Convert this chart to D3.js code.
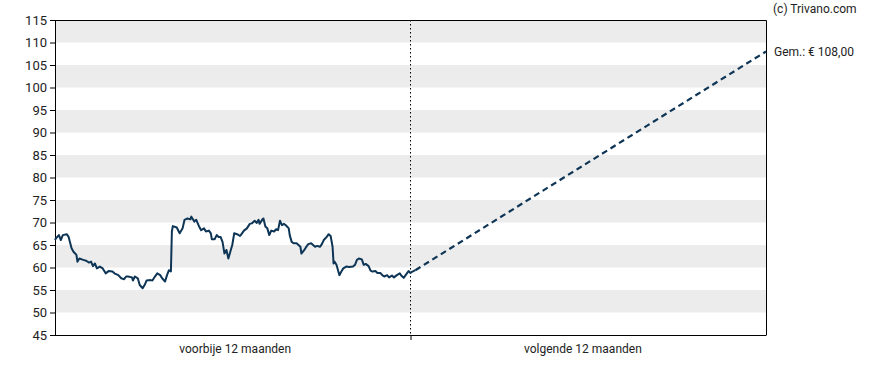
<!DOCTYPE html>
<html>
<head>
<meta charset="utf-8">
<script src="https://cdn.jsdelivr.net/npm/d3@7"></script>
<style>
  body { margin: 0; background: #fff; }
  svg text { font-family: Roboto, "Noto Sans", sans-serif; fill: #222; }
</style>
</head>
<body>
<div id="chart"></div>
<script>
// days relative to today, and closing price on that day
var dagen = [
  -365, -364, -361, -359, -357, -353, -351, -348, -346, -343,
  -342, -340, -336, -333, -330, -328, -326, -324, -322, -319,
  -316, -313, -310, -306, -304, -300, -297, -294, -292, -290,
  -286, -285, -283, -280, -278, -275, -273, -271, -267, -265,
  -262, -260, -257, -255, -252, -250, -248, -246, -245, -244,
  -240, -237, -234, -232, -229, -226, -225, -222, -220, -217,
  -215, -212, -210, -207, -205, -204, -201, -199, -197, -195,
  -193, -191, -189, -187, -185, -183, -181, -178, -175, -173,
  -171, -168, -165, -163, -160, -158, -156, -155, -152, -151,
  -149, -147, -145, -143, -140, -138, -136, -134, -132, -130,
  -128, -125, -124, -122, -120, -117, -115, -113, -112, -109,
  -107, -105, -102, -100, -98, -96, -93, -91, -89, -86,
  -84, -82, -80, -79, -78, -76, -73, -71, -69, -66,
  -63, -59, -57, -55, -53, -50, -48, -46, -43, -41,
  -39, -36, -34, -31, -29, -27, -24, -22, -19, -17,
  -14, -11, -9, -7, -5, -2, 0, 2, 5
];
var koersen = [
  66.1, 66.5, 67.2, 66.1, 67.2, 67.4, 66.8, 64.3, 63.5, 62.8,
  61.3, 62.0, 61.7, 61.5, 61.1, 61.3, 60.3, 60.9, 59.8, 60.2,
  59.8, 58.7, 59.2, 59.1, 58.7, 58.3, 57.6, 57.4, 58.0, 58.0,
  57.8, 57.1, 58.0, 57.6, 56.1, 55.4, 56.1, 57.1, 57.2, 57.1,
  58.1, 58.7, 58.3, 57.6, 56.9, 58.3, 59.4, 59.1, 68.0, 69.2,
  68.9, 67.6, 68.7, 70.6, 70.9, 70.7, 71.3, 70.2, 70.6, 69.1,
  68.3, 68.7, 68.0, 68.2, 67.6, 66.3, 66.3, 67.2, 66.8, 66.8,
  65.7, 63.1, 63.9, 62.0, 63.5, 65.0, 67.6, 67.4, 67.0, 67.6,
  68.2, 68.7, 69.7, 69.8, 70.4, 69.9, 70.6, 69.7, 70.7, 70.9,
  69.1, 68.7, 67.2, 68.2, 68.0, 68.5, 68.3, 70.4, 69.4, 69.7,
  69.4, 68.7, 67.2, 65.7, 65.4, 65.4, 65.0, 64.6, 63.1, 63.9,
  64.6, 65.2, 65.4, 65.0, 64.6, 64.8, 64.6, 65.2, 66.1, 66.8,
  67.4, 67.0, 64.6, 60.9, 61.3, 60.6, 58.3, 59.1, 59.8, 60.2,
  60.1, 60.2, 60.6, 61.7, 62.0, 61.8, 60.6, 60.8, 60.3, 59.3,
  59.1, 59.2, 58.8, 58.8, 58.3, 58.0, 58.3, 57.8, 58.2, 57.8,
  58.3, 58.7, 58.1, 57.7, 58.3, 59.2, 58.8, 59.1, 59.4
];

var koersdoel = 108;       // gemiddeld koersdoel over 12 maanden
var yTicks = d3.range(45, 116, 5);
var periodeLabels = ["voorbije 12 maanden", "volgende 12 maanden"];
var periodeMidden = [-180, 177]; // label positions in days

///////////////////////////////////////////////////////////////////////////
//////////////////////////// Set up the SVG ///////////////////////////////
///////////////////////////////////////////////////////////////////////////

var width = 888, height = 370;
var margin = {top: 20, right: 122, bottom: 35, left: 55};
var w = width - margin.left - margin.right,
    h = height - margin.top - margin.bottom;

var svg = d3.select("#chart").append("svg")
  .attr("width", width)
  .attr("height", height);

var g = svg.append("g")
  .attr("transform", "translate(" + margin.left + "," + margin.top + ")");

var x = d3.scaleLinear().domain([-365, 365]).range([0, w]);
var y = d3.scaleLinear().domain([45, 115]).range([h, 0]);

//Grey bands every other 5 units
var bands = yTicks.filter(function(d) { return d < 115 && (d % 10 === 0); });
g.selectAll(".band")
  .data(bands)
  .enter().append("rect")
  .attr("class", "band")
  .attr("x", 0)
  .attr("width", w)
  .attr("y", function(d) { return y(d + 5); })
  .attr("height", function(d) { return y(d) - y(d + 5); })
  .style("fill", "#ececec");

//Dotted line at today
g.append("line")
  .attr("x1", x(0)).attr("x2", x(0))
  .attr("y1", 0).attr("y2", h)
  .style("stroke", "#000")
  .style("stroke-width", 1)
  .style("stroke-dasharray", "1.5,2.5");

//Frame (top + right)
g.append("path")
  .attr("d", "M0,0.5H" + (w + 0.5) + "V" + h)
  .style("fill", "none")
  .style("stroke", "#000")
  .style("stroke-width", 1);

///////////////////////////////////////////////////////////////////////////
//////////////////////////////// Axes /////////////////////////////////////
///////////////////////////////////////////////////////////////////////////

var yAxis = g.append("g")
  .call(d3.axisLeft(y).tickValues(yTicks).tickSize(5).tickPadding(3));
yAxis.select(".domain").attr("d", "M0.5,0V" + h);
yAxis.selectAll("text").style("font-size", "13px").style("fill", "#222");
yAxis.selectAll("line").style("stroke", "#000");

var xAxis = g.append("g")
  .attr("transform", "translate(0," + h + ")")
  .call(d3.axisBottom(x).tickValues([0]).tickSize(5).tickFormat(""));
xAxis.select(".domain").attr("d", "M0,0.5H" + (w + 0.5));
xAxis.selectAll("line").style("stroke", "#000");

g.selectAll(".periode")
  .data(periodeLabels)
  .enter().append("text")
  .attr("class", "periode")
  .attr("x", function(d, i) { return x(periodeMidden[i]); })
  .attr("y", h + 18)
  .style("text-anchor", "middle")
  .style("font-size", "12px")
  .text(function(d) { return d; });

///////////////////////////////////////////////////////////////////////////
/////////////////////////////// Lines /////////////////////////////////////
///////////////////////////////////////////////////////////////////////////

var historie = dagen.map(function(d, i) { return {dag: d, koers: koersen[i]}; });

var line = d3.line()
  .x(function(d) { return x(d.dag); })
  .y(function(d) { return y(d.koers); });

var laatste = historie[historie.length - 1];
g.append("path")
  .datum([laatste, {dag: 365, koers: koersdoel}])
  .attr("d", line)
  .style("fill", "none")
  .style("stroke", "#0e3555")
  .style("stroke-width", 2.2)
  .style("stroke-dasharray", "6,4");

g.append("path")
  .datum(historie)
  .attr("d", line)
  .style("fill", "none")
  .style("stroke", "#0e3555")
  .style("stroke-width", 2)
  .style("stroke-linejoin", "round");

///////////////////////////////////////////////////////////////////////////
/////////////////////////////// Texts /////////////////////////////////////
///////////////////////////////////////////////////////////////////////////

g.append("text")
  .attr("x", w + 8)
  .attr("y", y(koersdoel))
  .attr("dy", "0.35em")
  .style("font-size", "12px")
  .text("Gem.: € " + d3.format(".2f")(koersdoel).replace(".", ","));

svg.append("text")
  .attr("x", margin.left + w + 7)
  .attr("y", 13)
  .style("font-size", "12px")
  .text("(c) Trivano.com");
</script>
</body>
</html>
